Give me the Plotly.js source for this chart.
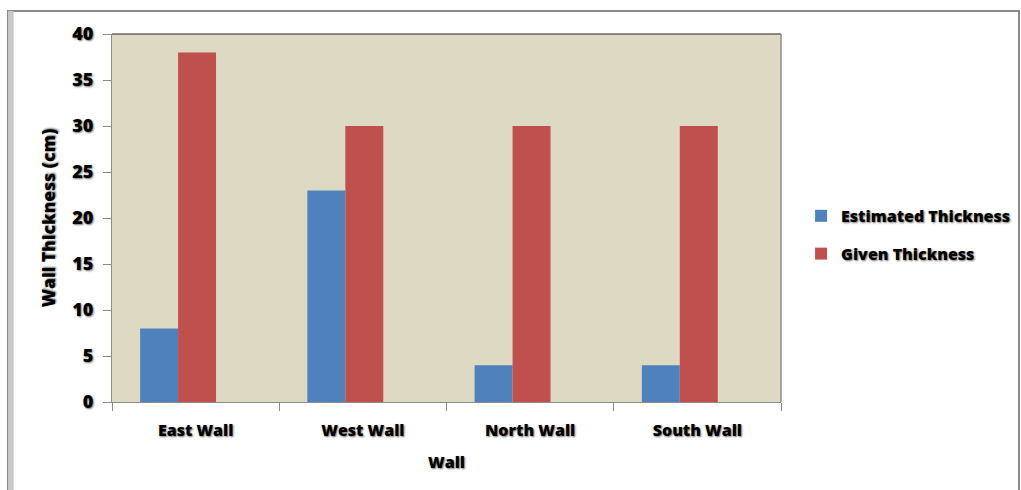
<!DOCTYPE html>
<html>
<head>
<meta charset="utf-8">
<script src="https://cdn.plot.ly/plotly-3.0.1.min.js"></script>
<style>
html,body{margin:0;padding:0;background:#fff;}
#chart{width:1021px;height:490px;}
</style>
</head>
<body>
<div id="chart"></div>
<script>
const categories = ["East Wall", "West Wall", "North Wall", "South Wall"];
const estimatedThickness = [8, 23, 4, 4];
const givenThickness = [38, 30, 30, 30];
const seriesNames = ["Estimated Thickness", "Given Thickness"];
const yTicks = [0, 5, 10, 15, 20, 25, 30, 35, 40];

const shadow = "1px 1px 2px rgba(0,0,0,0.55)";
const fontFam = "'Open Sans', Lato, 'Liberation Sans', sans-serif";
const f = (size) => ({family: fontFam, size: size, color: "#000", weight: 800, shadow: shadow});

const traces = [
  {type: "bar", name: seriesNames[0], x: categories, y: estimatedThickness,
   width: 0.227, offset: -0.332, legendgroup: "a",
   marker: {color: "#4F81BD", line: {width: 0}}},
  {type: "bar", name: seriesNames[1], x: categories, y: givenThickness,
   width: 0.227, offset: -0.105, legendgroup: "b",
   marker: {color: "#C0504D", line: {width: 0}}}
];

const layout = {
  width: 1021, height: 490,
  margin: {l: 112, r: 240, t: 34, b: 88, autoexpand: false},
  paper_bgcolor: "#ffffff",
  plot_bgcolor: "#DDD9C3",
  barmode: "overlay",
  showlegend: true,
  legend: {
    x: 1.03, y: 0.454, xanchor: "left", yanchor: "middle",
    font: f(16), tracegroupgap: 14, itemwidth: 30, bgcolor: "rgba(0,0,0,0)"
  },
  xaxis: {
    type: "category",
    showline: true, linecolor: "#8c8c8c", linewidth: 1,
    ticks: "outside", tickson: "boundaries", ticklen: 8, tickcolor: "#8c8c8c",
    ticklabelstandoff: 14,
    tickfont: f(16),
    title: {text: "Wall", standoff: 16, font: f(16)},
    showgrid: false, automargin: false
  },
  yaxis: {
    range: [0, 40], tickvals: yTicks,
    showline: true, linecolor: "#8c8c8c", linewidth: 1,
    ticks: "outside", ticklen: 8, tickcolor: "#8c8c8c",
    ticklabelstandoff: 6,
    tickfont: f(18),
    title: {text: "Wall Thickness (cm)", standoff: 12, font: f(17.5)},
    showgrid: false, zeroline: false, automargin: false
  },
  shapes: [
    {type: "line", xref: "paper", yref: "paper", x0: 0, x1: 1, y0: 1, y1: 1,
     line: {color: "#222", width: 1}},
    {type: "line", xref: "paper", yref: "paper", x0: 1, x1: 1, y0: 0, y1: 1,
     line: {color: "#8c8c8c", width: 1.5}},
    {type: "rect", xref: "paper", yref: "paper",
     x0: -0.1555, x1: 1.3558, y0: -0.26, y1: 1.0625,
     line: {color: "#8a8a8a", width: 2}, layer: "below"},
    {type: "rect", xref: "paper", yref: "paper",
     x0: -0.1555, x1: -0.147, y0: -0.26, y1: 1.0625,
     fillcolor: "#c8c8c8", line: {width: 0}, layer: "below"}
  ]
};

Plotly.newPlot("chart", traces, layout, {displayModeBar: false, staticPlot: true});
</script>
</body>
</html>
